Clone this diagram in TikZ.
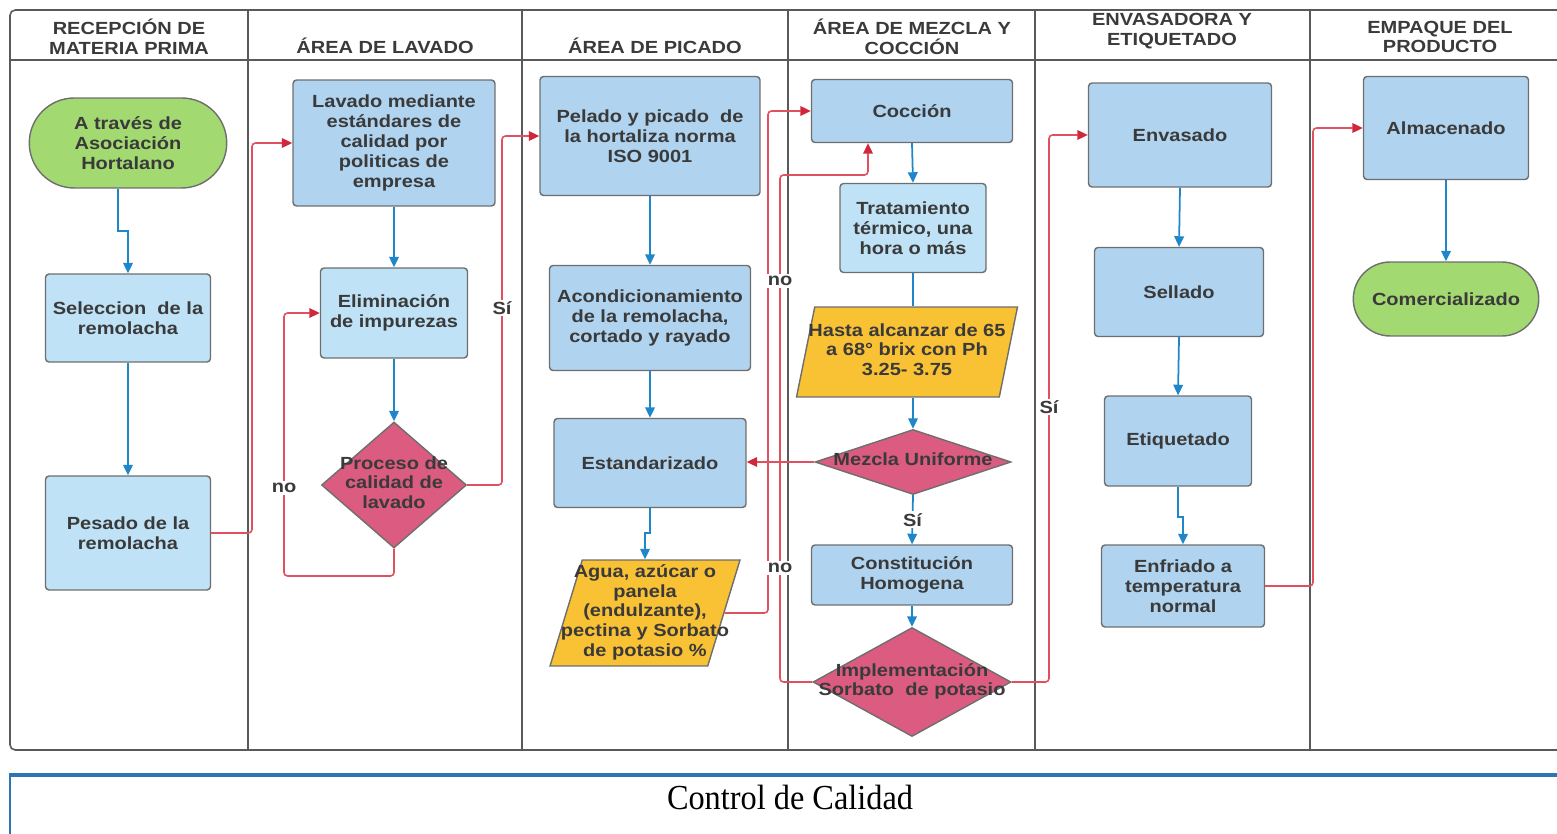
\documentclass[tikz,border=0pt]{standalone}
\usepackage{fontspec}
\setmainfont{Liberation Sans}[FakeStretch=1.14]
\newfontfamily\calfont{Liberation Serif}[FakeStretch=0.92]
\usetikzlibrary{shapes.geometric,shapes.misc,arrows.meta}
\definecolor{cajaclara}{HTML}{BFE2F6}
\definecolor{cajamedia}{HTML}{B0D3EF}
\definecolor{verde}{HTML}{A2D971}
\definecolor{rosa}{HTML}{DB5C80}
\definecolor{amarillo}{HTML}{F9C134}
\definecolor{flecha}{HTML}{1F87C9}
\definecolor{lineroja}{HTML}{E0505E}
\definecolor{puntaroja}{HTML}{D0283A}
\definecolor{borde}{HTML}{6E6E6E}
\definecolor{texto}{HTML}{3A3A3A}
\definecolor{calidad}{HTML}{2E75B6}
\newcommand{\sinancho}[1]{\makebox[0pt]{\begin{tabular}{@{}c@{}}#1\end{tabular}}}

\begin{document}
\begin{tikzpicture}[x=0.02cm,y=-0.02cm,
    font=\fontsize{10}{11.3}\selectfont\bfseries, text=texto,
    caja/.style={draw=borde, line width=0.8pt, rounded corners=2pt, fill=cajamedia, align=center, inner sep=1pt},
    clara/.style={caja, fill=cajaclara},
    inicio/.style={rounded rectangle, draw=borde, line width=0.8pt, fill=verde, align=center, inner sep=1pt},
    decision/.style={diamond, draw=borde, line width=0.8pt, fill=rosa, inner sep=0pt},
    datos/.style={trapezium, trapezium stretches body=true, draw=borde, line width=0.8pt, fill=amarillo, inner sep=0pt},
    azul/.style={draw=flecha, line width=1pt, -{Triangle[length=6pt,width=5.5pt]}},
    rojo/.style={draw=lineroja, line width=0.9pt, rounded corners=2pt, -{Triangle[length=6pt,width=5.5pt,color=puntaroja]}},
    lbl/.style={fill=white, inner sep=1pt},
    carril/.style={draw=black!65, line width=0.9pt}]
    \clip (0,0) rectangle (1557,834);

    % carriles
    \draw[carril, rounded corners=3pt] (1600,10) -- (10,10) -- (10,750) -- (1600,750);
    \draw[carril] (10,60) -- (1557,60);
    \foreach \x in {248,522,788,1035,1310}
        \draw[carril] (\x,10) -- (\x,750);

    \node[align=center] (h1) at (129,37) {RECEPCIÓN DE\\MATERIA PRIMA};
    \node (h2) at (385,46) {ÁREA DE LAVADO};
    \node (h3) at (655,46) {ÁREA DE PICADO};
    \node[align=center] (h4) at (912,37) {ÁREA DE MEZCLA Y\\COCCIÓN};
    \node[align=center] (h5) at (1172,31) {ENVASADORA Y\\ETIQUETADO};
    \node[align=center] (h6) at (1440,37) {EMPAQUE DEL\\PRODUCTO};

    % recepcion
    \node[inicio, minimum width=4.02cm, minimum height=1.8cm] (ini) at (128,143) {A través de\\Asociación\\Hortalano};
    \node[clara, minimum width=3.3cm, minimum height=1.76cm] (sel) at (128,318) {Seleccion\ \ de la\\remolacha};
    \node[clara, minimum width=3.3cm, minimum height=2.28cm] (pes) at (128,533) {Pesado de la\\remolacha};

    % lavado
    \node[caja, minimum width=4.04cm, minimum height=2.52cm] (lav) at (394,143) {Lavado mediante\\estándares de\\calidad por\\politicas de\\empresa};
    \node[clara, minimum width=2.94cm, minimum height=1.8cm] (eli) at (394,313) {Eliminación\\de impurezas};
    \node[decision, minimum width=2.9cm, minimum height=2.52cm] (pro) at (394,485) {\sinancho{Proceso de\\calidad de\\lavado}};

    % picado
    \node[caja, minimum width=4.4cm, minimum height=2.38cm] (pel) at (650,136) {Pelado y picado\ \ de\\la hortaliza norma\\ISO 9001};
    \node[caja, minimum width=4.02cm, minimum height=2.1cm] (aco) at (650,318) {Acondicionamiento\\de la remolacha,\\cortado y rayado};
    \node[caja, minimum width=3.84cm, minimum height=1.78cm] (est) at (650,463) {Estandarizado};
    \node[datos, trapezium left angle=72, trapezium right angle=108, minimum width=3.8cm, minimum height=2.12cm] (agu) at (645,613) {\sinancho{Agua, azúcar o\\panela\\(endulzante),\\pectina y Sorbato\\de potasio \%}};

    % mezcla y coccion
    \node[caja, minimum width=4.02cm, minimum height=1.26cm] (coc) at (912,111) {Cocción};
    \node[clara, minimum width=2.92cm, minimum height=1.78cm] (tra) at (913,228) {Tratamiento\\térmico, una\\hora o más};
    \node[datos, trapezium left angle=73, trapezium right angle=107, minimum width=4.42cm, minimum height=1.8cm] (has) at (907,352) {\sinancho{Hasta alcanzar de 65\\a 68° brix con Ph\\3.25- 3.75}};
    \node[decision, minimum width=3.92cm, minimum height=1.3cm] (mez) at (913,462) {\sinancho{Mezcla Uniforme}};
    \node[caja, minimum width=4.02cm, minimum height=1.2cm] (con) at (912,575) {Constitución\\Homogena};
    \node[decision, minimum width=3.96cm, minimum height=2.18cm] (imp) at (912,682) {\sinancho{Implementación\\Sorbato\ \ de potasio}};

    % envasadora
    \node[caja, minimum width=3.66cm, minimum height=2.08cm] (env) at (1180,135) {Envasado};
    \node[caja, minimum width=3.38cm, minimum height=1.78cm] (sll) at (1179,292) {Sellado};
    \node[caja, minimum width=2.94cm, minimum height=1.8cm] (eti) at (1178,441) {Etiquetado};
    \node[caja, minimum width=3.26cm, minimum height=1.64cm] (enf) at (1183,586) {Enfriado a\\temperatura\\normal};

    % empaque
    \node[caja, minimum width=3.3cm, minimum height=2.06cm] (alm) at (1446,128) {Almacenado};
    \node[inicio, minimum width=3.78cm, minimum height=1.48cm] (com) at (1446,299) {Comercializado};

    % flujo azul
    \draw[azul] ([xshift=-0.2cm]ini.south) -- ++(0,42) -| (sel.north);
    \draw[azul] (sel.south) -- (pes.north);
    \draw[azul] (lav.south) -- (eli.north);
    \draw[azul] (eli.south) -- (pro.north);
    \draw[azul] (pel.south) -- (aco.north);
    \draw[azul] (aco.south) -- (est.north);
    \draw[azul] (est.south) -- ++(0,25) -| (agu.north);
    \draw[azul] (coc.south) -- (tra.north);
    \draw[draw=flecha, line width=1pt] (tra.south) -- (tra.south |- has.north);
    \draw[azul] (has.south -| mez.north) -- (mez.north);
    \draw[azul] (mez.south) -- (con.north) node[lbl, midway] (si3) {Sí};
    \draw[azul] (con.south) -- (imp.north);
    \draw[azul] (env.south) -- (sll.north);
    \draw[azul] (sll.south) -- (eti.north);
    \draw[azul] (eti.south) -- ++(0,30) -| (enf.north);
    \draw[azul] (alm.south) -- (com.north);

    % flujo rojo
    \draw[rojo] (pes.east) -| (252,143) -- (lav.west);
    \draw[rojo] (pro.south) -- (394,576) -| (284,313) -- (eli.west);
    \draw[rojo] (pro.east) -| (502,136) -- (pel.west);
    \draw[rojo] (agu.east) -| (768,111) -- (coc.west);
    \draw[rojo] (imp.west) -| (780,175) -| ([xshift=-0.88cm]coc.south);
    \draw[rojo] (mez.west) -- (mez.west -| est.east);
    \draw[rojo] (imp.east) -| (1049,135) -- (env.west);
    \draw[rojo] (enf.east) -| (1313,128) -- (alm.west);

    \node[lbl] (no1) at (284,488) {no};
    \node[lbl] (si1) at (502,308) {Sí};
    \node[lbl] (no2) at (780,281) {no};
    \node[lbl] (no3) at (780,568) {no};
    \node[lbl] (si2) at (1049,407) {Sí};

    % control de calidad
    \draw[draw=calidad, line width=0.7pt] (10,834) -- (10,776);
    \draw[draw=calidad, line width=2pt] (9,775) -- (1557,775);
    \node[font=\calfont\mdseries\fontsize{20}{22}\selectfont, text=black] (cal) at (790,797) {Control de Calidad};
\end{tikzpicture}
\end{document}
